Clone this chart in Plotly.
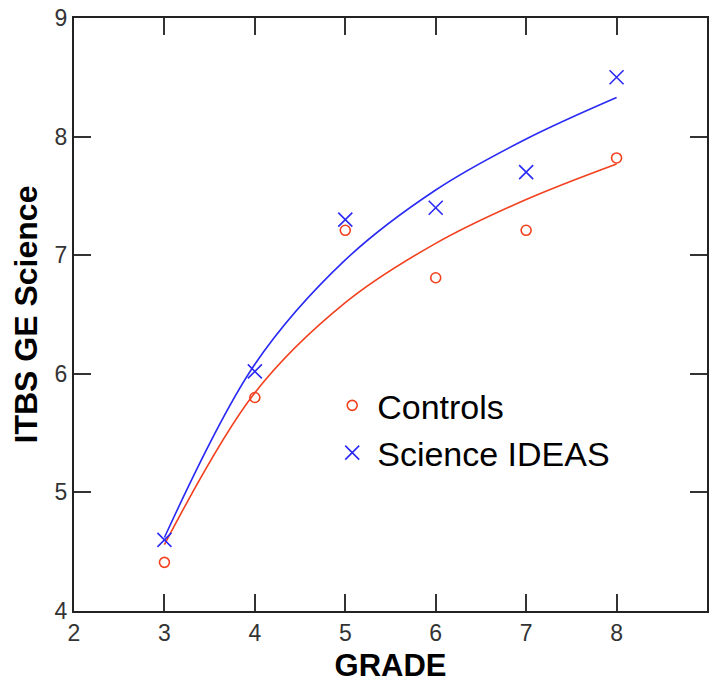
import plotly.graph_objects as go

grades = [3, 4, 5, 6, 7, 8]
controls = [4.41, 5.80, 7.21, 6.81, 7.21, 7.82]
ideas = [4.60, 6.02, 7.30, 7.40, 7.70, 8.50]
# fitted trend curves
controls_fit = [4.56, 5.84, 6.60, 7.10, 7.47, 7.77]
ideas_fit = [4.62, 6.08, 6.96, 7.55, 7.98, 8.33]

x_ticks = [2, 3, 4, 5, 6, 7, 8, 9]
y_ticks = [4, 5, 6, 7, 8, 9]

RED = "#F2401E"
BLUE = "#2A2AF5"

fig = go.Figure()
fig.add_trace(go.Scatter(x=grades, y=controls_fit, mode="lines", line=dict(color=RED, width=1.6, shape="spline", smoothing=1.0), showlegend=False, hoverinfo="skip"))
fig.add_trace(go.Scatter(x=grades, y=ideas_fit, mode="lines", line=dict(color=BLUE, width=1.6, shape="spline", smoothing=1.0), showlegend=False, hoverinfo="skip"))
fig.add_trace(go.Scatter(x=grades, y=controls, mode="markers", name="Controls",
                         marker=dict(symbol="circle-open", size=10, color=RED, line=dict(width=1.6, color=RED))))
fig.add_trace(go.Scatter(x=grades, y=ideas, mode="markers", name="Science IDEAS",
                         marker=dict(symbol="x-thin-open", size=14, color=BLUE, line=dict(width=1.6, color=BLUE))))

axis_common = dict(showline=True, linecolor="#222", linewidth=2, mirror="allticks",
                   ticks="inside", ticklen=17, tickwidth=2, tickcolor="#333",
                   showgrid=False, zeroline=False, automargin=False,
                   tickfont=dict(family="Liberation Sans", size=23, color="#333"))

fig.update_xaxes(range=[2, 9], tickvals=x_ticks, **axis_common,
                 title=dict(text="<b>GRADE</b>", font=dict(family="Liberation Sans", size=31, color="#000"), standoff=10))
fig.update_yaxes(range=[4, 9], tickvals=y_ticks, **axis_common,
                 title=dict(text="<b>ITBS GE Science</b>", font=dict(family="Liberation Sans", size=32, color="#000"), standoff=7))

fig.update_layout(
    width=709, height=684,
    margin=dict(l=74, r=2, t=18, b=73),
    plot_bgcolor="white", paper_bgcolor="white",
    legend=dict(x=0.40, y=0.395, xanchor="left", yanchor="top",
                font=dict(family="Liberation Sans", size=34, color="#000"),
                bgcolor="rgba(0,0,0,0)", itemwidth=40),
)

fig.write_html("out.html", config={"displayModeBar": False},
               post_script="document.body.style.margin='0';document.body.style.overflow='hidden';")
